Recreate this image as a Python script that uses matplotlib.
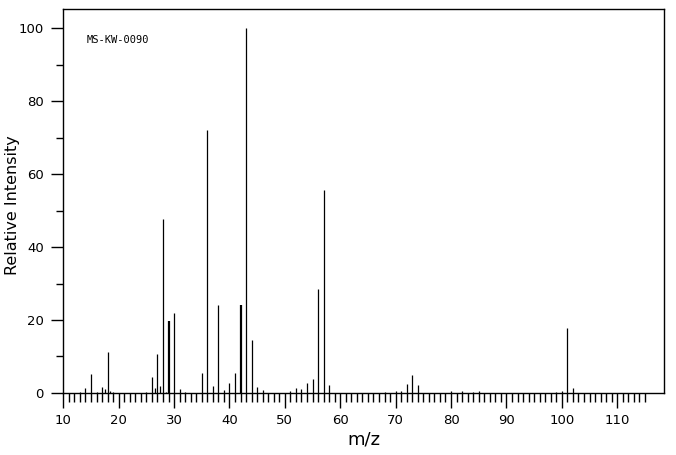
import matplotlib
matplotlib.use("Agg")
import matplotlib.pyplot as plt
from matplotlib.ticker import MultipleLocator

# peak list
mz = [13, 14, 15, 16, 17, 17.5, 18, 18.5, 19,
      25, 26, 26.5, 27, 27.5, 28, 28.5, 29, 30, 31, 32,
      35, 36, 37, 38, 39, 40, 41, 42, 43, 44, 45, 46,
      51, 52, 53, 54, 55, 56, 57, 58,
      68, 70, 71, 72, 73, 74,
      80, 82, 84, 85, 99, 100, 101, 102]
intensity = [0.3, 1.3, 5.3, 0.3, 1.6, 1.0, 11.2, 0.5, 0.3,
             0.4, 4.5, 1.5, 10.8, 1.9, 47.6, 0.4, 19.8, 22.0, 1.2, 0.4,
             5.5, 72.0, 2.0, 24.2, 0.9, 2.6, 5.6, 24.2, 100.0, 14.6, 1.7, 0.8,
             0.6, 1.4, 1.1, 2.6, 3.7, 28.6, 55.6, 2.2,
             0.4, 0.6, 0.6, 2.5, 5.0, 2.3,
             0.5, 0.5, 0.4, 0.5, 0.4, 0.6, 17.8, 1.5]
x_ticklabels = list(range(10, 111, 10))
y_ticklabels = list(range(0, 101, 20))
sample_id = "MS-KW-0090"

fig = plt.figure(figsize=(6.76, 4.55), dpi=100)
ax = fig.add_axes([0.0936, 0.1363, 0.8891, 0.8437])

widths = [1.6 if m in (29, 42) else 0.9 for m in mz]
ax.vlines(mz, 0, intensity, colors="black", linewidth=widths)

ax.set_xlim(10, 118.5)
ax.set_ylim(0, 105.2)

ax.set_xticks(x_ticklabels)
ax.set_xticks(range(10, 116), minor=True)
ax.set_yticks(y_ticklabels)
ax.yaxis.set_minor_locator(MultipleLocator(10))

ax.tick_params(axis="x", which="major", direction="out", length=11, width=1, labelsize=9.5, pad=4)
ax.tick_params(axis="x", which="minor", direction="out", length=6.5, width=1)
ax.tick_params(axis="y", which="major", direction="out", length=9, width=1, labelsize=9.5, pad=5)
ax.tick_params(axis="y", which="minor", direction="out", length=5, width=1)

for s in ax.spines.values():
    s.set_linewidth(1)

ax.set_xlabel("m/z", fontsize=13)
ax.set_ylabel("Relative Intensity", fontsize=11.5)
ax.xaxis.set_label_coords(0.5, -0.122)
ax.yaxis.set_label_coords(-0.085, 0.49)
ax.xaxis.label.set_va("center")
ax.yaxis.label.set_va("center")

ax.text(0.039, 0.919, sample_id, transform=ax.transAxes, fontsize=7.5,
        family="DejaVu Sans Mono", va="center", ha="left")

fig.savefig("out.png", dpi=100)
